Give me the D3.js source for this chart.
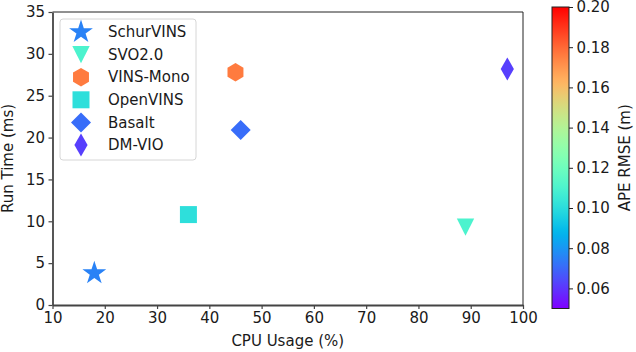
<!DOCTYPE html>
<html>
<head>
<meta charset="utf-8">
<script src="https://cdn.jsdelivr.net/npm/d3@7"></script>
<style>
  body { margin: 0; background: #fff; }
  text { font-family: "DejaVu Sans", sans-serif; fill: #1a1a1a; }
</style>
</head>
<body>
<div id="chart"></div>
<script>
// data
const methods = ["SchurVINS", "SVO2.0", "VINS-Mono", "OpenVINS", "Basalt", "DM-VIO"];
const cpuUsage = [18, 89, 45, 36, 46, 97];
const runTime = [3.8, 9.3, 27.8, 10.8, 20.9, 28.2];
const apeRmse = [0.0755, 0.110, 0.176, 0.101, 0.071, 0.062];
const xTicks = [10, 20, 30, 40, 50, 60, 70, 80, 90, 100];
const yTicks = [0, 5, 10, 15, 20, 25, 30, 35];
const cTicks = [0.06, 0.08, 0.10, 0.12, 0.14, 0.16, 0.18, 0.20];

const width = 636, height = 352;
const plot = { left: 52.5, right: 523, top: 12, bottom: 305 };
const cbar = { left: 552, right: 569, top: 7, bottom: 308.5 };
const fontSize = 15;

// matplotlib "rainbow" colormap
function rainbow(t) {
  const r = Math.min(1, Math.abs(2 * t - 0.5));
  const g = Math.sin(Math.PI * t);
  const b = Math.cos(Math.PI * t / 2);
  return d3.rgb(r * 255, g * 255, b * 255).formatHex();
}

const x = d3.scaleLinear().domain([10, 100]).range([plot.left, plot.right]);
const y = d3.scaleLinear().domain([0, 35]).range([plot.bottom, plot.top]);
const c = d3.scaleLinear().domain([0.05, 0.20]).range([cbar.bottom, cbar.top]);
const norm = d3.scaleLinear().domain([0.05, 0.20]).range([0, 1]).clamp(true);
const color = v => rainbow(norm(v));

// marker shape per method
const shapes = {
  "SchurVINS": "star",
  "SVO2.0": "tri_down",
  "VINS-Mono": "hexagon",
  "OpenVINS": "square",
  "Basalt": "diamond",
  "DM-VIO": "thin_diamond"
};

function markerPath(shape) {
  const pts = [];
  if (shape === "star") {
    const R = 12.5, r = R * 0.381966;
    for (let i = 0; i < 10; i++) {
      const a = -Math.PI / 2 + i * Math.PI / 5;
      const rr = i % 2 ? r : R;
      pts.push([rr * Math.cos(a), rr * Math.sin(a)]);
    }
  } else if (shape === "tri_down") {
    pts.push([-8.7, -8.7], [8.7, -8.7], [0, 8.7]);
  } else if (shape === "hexagon") {
    const R = 9.2;
    for (let i = 0; i < 6; i++) {
      const a = -Math.PI / 2 + i * Math.PI / 3;
      pts.push([R * Math.cos(a), R * Math.sin(a)]);
    }
  } else if (shape === "square") {
    pts.push([-8.5, -8.5], [8.5, -8.5], [8.5, 8.5], [-8.5, 8.5]);
  } else if (shape === "diamond") {
    pts.push([0, -10], [10, 0], [0, 10], [-10, 0]);
  } else if (shape === "thin_diamond") {
    pts.push([0, -11.5], [6.6, 0], [0, 11.5], [-6.6, 0]);
  }
  return "M" + pts.map(p => p[0].toFixed(2) + "," + p[1].toFixed(2)).join("L") + "Z";
}

const svg = d3.select("#chart").append("svg")
  .attr("width", width)
  .attr("height", height);

// points
const rows = methods.map((m, i) => ({ name: m, cpu: cpuUsage[i], rt: runTime[i], ape: apeRmse[i] }));

svg.append("g").selectAll("path")
  .data(rows)
  .join("path")
  .attr("transform", d => `translate(${x(d.cpu)},${y(d.rt)})`)
  .attr("d", d => markerPath(shapes[d.name]))
  .attr("fill", d => color(d.ape));

// spines
svg.append("line")
  .attr("x1", plot.left).attr("x2", plot.right)
  .attr("y1", plot.top).attr("y2", plot.top)
  .attr("stroke", "#222").attr("stroke-width", 1);
svg.append("line")
  .attr("x1", plot.right).attr("x2", plot.right)
  .attr("y1", plot.top).attr("y2", plot.bottom)
  .attr("stroke", "#222").attr("stroke-width", 1);

// axes
const xAxis = svg.append("g")
  .attr("transform", `translate(0,${plot.bottom})`)
  .call(d3.axisBottom(x).tickValues(xTicks).tickSize(4).tickPadding(3.5).tickSizeOuter(0));
const yAxis = svg.append("g")
  .attr("transform", `translate(${plot.left},0)`)
  .call(d3.axisLeft(y).tickValues(yTicks).tickSize(4).tickPadding(3.5).tickSizeOuter(0));

[xAxis, yAxis].forEach(a => {
  a.select(".domain").attr("stroke", "#444").attr("stroke-width", 1.8);
  a.selectAll(".tick line").attr("stroke", "#444").attr("stroke-width", 1.2);
  a.selectAll(".tick text")
    .style("font-family", "DejaVu Sans")
    .style("font-size", fontSize + "px")
    .attr("fill", "#1a1a1a");
});

svg.append("text")
  .attr("x", (plot.left + plot.right) / 2)
  .attr("y", 346)
  .attr("text-anchor", "middle")
  .style("font-size", fontSize + "px")
  .text("CPU Usage (%)");

svg.append("text")
  .attr("transform", `translate(13,${(plot.top + plot.bottom) / 2}) rotate(-90)`)
  .attr("text-anchor", "middle")
  .style("font-size", fontSize + "px")
  .text("Run Time (ms)");

// legend
const legend = svg.append("g").attr("transform", "translate(60,19)");
legend.append("rect")
  .attr("width", 136).attr("height", 141)
  .attr("rx", 3)
  .attr("fill", "#fff").attr("fill-opacity", 0.8)
  .attr("stroke", "#d6d6d6").attr("stroke-width", 1);

const item = legend.selectAll("g.item")
  .data(rows)
  .join("g")
  .attr("class", "item")
  .attr("transform", (d, i) => `translate(21,${13 + i * 22.6})`);
item.append("path")
  .attr("d", d => markerPath(shapes[d.name]))
  .attr("fill", d => color(d.ape));
item.append("text")
  .attr("x", 27)
  .attr("dy", "0.35em")
  .style("font-size", fontSize + "px")
  .text(d => d.name);

// colorbar
const defs = svg.append("defs");
const grad = defs.append("linearGradient")
  .attr("id", "cmap")
  .attr("x1", 0).attr("x2", 0).attr("y1", 1).attr("y2", 0);
d3.range(0, 1.0001, 0.02).forEach(t => {
  grad.append("stop").attr("offset", t).attr("stop-color", rainbow(t));
});

svg.append("rect")
  .attr("x", cbar.left).attr("y", cbar.top)
  .attr("width", cbar.right - cbar.left)
  .attr("height", cbar.bottom - cbar.top)
  .attr("fill", "url(#cmap)")
  .attr("stroke", "#222").attr("stroke-width", 1);

const cAxis = svg.append("g")
  .attr("transform", `translate(${cbar.right},0)`)
  .call(d3.axisRight(c).tickValues(cTicks).tickFormat(d3.format(".2f")).tickSize(4).tickPadding(3.5).tickSizeOuter(0));
cAxis.select(".domain").remove();
cAxis.selectAll(".tick line").attr("stroke", "#222").attr("stroke-width", 1);
cAxis.selectAll(".tick text")
  .style("font-family", "DejaVu Sans")
  .style("font-size", fontSize + "px")
  .attr("fill", "#1a1a1a");

svg.append("text")
  .attr("transform", `translate(630,${(cbar.top + cbar.bottom) / 2}) rotate(-90)`)
  .attr("text-anchor", "middle")
  .style("font-size", fontSize + "px")
  .text("APE RMSE (m)");
</script>
</body>
</html>
